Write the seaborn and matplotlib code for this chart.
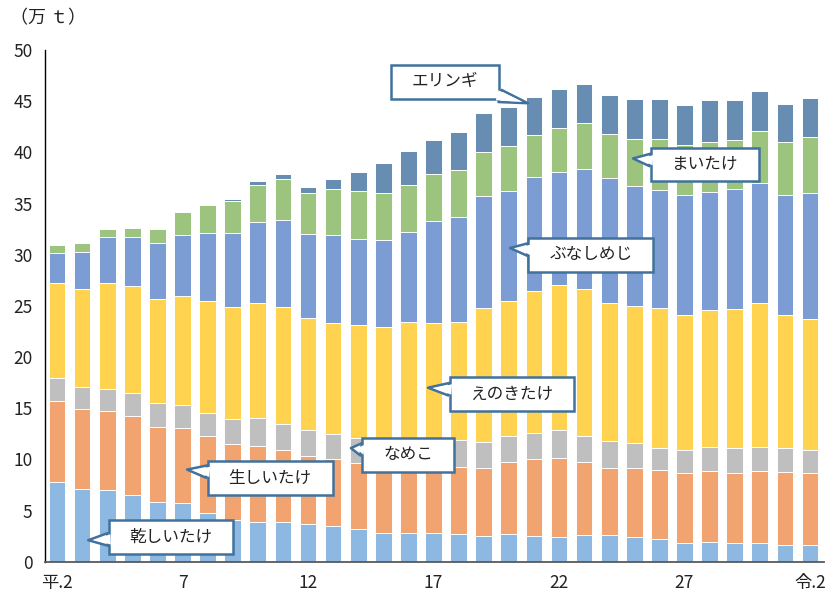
import numpy as np
import pandas as pd
import matplotlib
matplotlib.use("Agg")
import matplotlib.pyplot as plt
import seaborn as sns
from matplotlib.path import Path

# ---------------- data (万t) ----------------
years = ["平.2", "3", "4", "5", "6", "7", "8", "9", "10", "11", "12", "13", "14",
         "15", "16", "17", "18", "19", "20", "21", "22", "23", "24", "25", "26",
         "27", "28", "29", "30", "令.1", "令.2"]
tick_labels = ["平.2", "7", "12", "17", "22", "27", "令.2"]

series_names = ["乾しいたけ", "生しいたけ", "なめこ", "えのきたけ", "ぶなしめじ", "まいたけ", "エリンギ"]

dried = [7.8, 7.1, 7.0, 6.5, 5.8, 5.7, 4.8, 4.05, 3.9, 3.9, 3.65, 3.45, 3.15, 2.85, 2.85,
         2.85, 2.7, 2.5, 2.7, 2.55, 2.45, 2.6, 2.6, 2.4, 2.2, 1.8, 1.9, 1.8, 1.8, 1.65, 1.6]
fresh = [7.9, 7.8, 7.7, 7.7, 7.4, 7.4, 7.5, 7.45, 7.45, 7.05, 6.7, 6.6, 6.45, 6.6, 6.45,
         6.55, 6.6, 6.7, 7.05, 7.45, 7.7, 7.1, 6.6, 6.8, 6.75, 6.85, 6.95, 6.9, 7.05, 7.15, 7.05]
nameko = [2.25, 2.2, 2.2, 2.3, 2.3, 2.25, 2.25, 2.45, 2.7, 2.55, 2.55, 2.45, 2.5, 2.45, 2.5,
          2.5, 2.6, 2.5, 2.55, 2.6, 2.75, 2.55, 2.6, 2.4, 2.2, 2.3, 2.35, 2.4, 2.4, 2.35, 2.25]
enoki = [9.25, 9.5, 10.3, 10.4, 10.2, 10.65, 10.9, 10.95, 11.2, 11.4, 10.95, 10.8, 11.05, 11.0, 11.6,
         11.45, 11.5, 13.1, 13.15, 13.85, 14.15, 14.35, 13.5, 13.35, 13.6, 13.2, 13.35, 13.55, 14.05, 12.95, 12.8]
bunashimeji = [3.0, 3.7, 4.5, 4.8, 5.4, 5.9, 6.65, 7.25, 7.9, 8.45, 8.2, 8.65, 8.35, 8.5, 8.8,
               9.95, 10.3, 10.9, 10.8, 11.15, 11.0, 11.8, 12.15, 11.75, 11.6, 11.65, 11.6, 11.8, 11.75, 11.75, 12.3]
maitake = [0.75, 0.8, 0.85, 0.95, 1.45, 2.3, 2.75, 3.1, 3.65, 4.05, 4.0, 4.45, 4.7, 4.6, 4.6,
           4.55, 4.6, 4.35, 4.35, 4.1, 4.35, 4.45, 4.35, 4.6, 4.95, 4.9, 4.85, 4.75, 5.0, 5.15, 5.5]
eringi = [0.0, 0.0, 0.0, 0.0, 0.0, 0.0, 0.0, 0.2, 0.4, 0.5, 0.6, 1.0, 1.9, 2.95, 3.35,
          3.4, 3.7, 3.8, 3.85, 3.7, 3.75, 3.8, 3.8, 3.95, 3.95, 3.9, 4.1, 3.9, 3.9, 3.75, 3.85]

colors = ["#8DB8E1", "#F1A46F", "#BFBFBF", "#FFD34F", "#7C9CD4", "#9CC47E", "#678DB3"]

df = pd.DataFrame({"year": years, "乾しいたけ": dried, "生しいたけ": fresh, "なめこ": nameko,
                   "えのきたけ": enoki, "ぶなしめじ": bunashimeji, "まいたけ": maitake,
                   "エリンギ": eringi})
cum = df[series_names].cumsum(axis=1)
cum["year"] = df["year"]

# ---------------- style ----------------
sns.set_style("white")
plt.rcParams["font.family"] = ["Noto Sans CJK JP", "DejaVu Sans"]

fig = plt.figure(figsize=(8.4, 5.92), dpi=100)
ax = fig.add_axes([45 / 840, 30.3 / 592, (824 - 45) / 840, (561.7 - 50) / 592])

for name, col in reversed(list(zip(series_names, colors))):
    sns.barplot(data=cum, x="year", y=name, color=col, saturation=1, width=0.665,
                edgecolor="white", linewidth=0.7, errorbar=None, ax=ax, zorder=2)

ax.set_xlim(-0.48, 30.56)
ax.set_ylim(0, 50)
ax.set_yticks(np.arange(0, 51, 5))
ax.set_xticks([years.index(t) for t in tick_labels])
ax.set_xticklabels(tick_labels)
ax.set_xlabel("")
ax.set_ylabel("")
ax.tick_params(axis="y", direction="out", length=4, width=1, color="black",
               labelsize=12.5, pad=5, labelcolor="#222222")
ax.tick_params(axis="x", length=0, labelsize=12.5, pad=9, labelcolor="#222222")
for s in ["top", "right"]:
    ax.spines[s].set_visible(False)
ax.spines["left"].set_color("black")
ax.spines["left"].set_linewidth(1.0)
ax.spines["bottom"].set_color("#595959")
ax.spines["bottom"].set_linewidth(1.3)
ax.spines["left"].set_zorder(5)
ax.spines["bottom"].set_zorder(5)

fig.text(10 / 840, 1 - 18 / 592, "（万 ｔ）", fontsize=13, va="center", ha="left",
         color="#222222")


# ---------------- callouts ----------------
def make_box(shrink):
    def callout_box(x0, y0, width, height, mutation_size):
        padx = (1.25 - shrink) * mutation_size
        pady = (0.5 - shrink) * mutation_size
        x0 -= padx
        y0 -= pady
        width += 2 * padx
        height += 2 * pady
        verts = [(x0, y0), (x0 + width, y0), (x0 + width, y0 + height),
                 (x0, y0 + height), (x0, y0)]
        codes = [Path.MOVETO, Path.LINETO, Path.LINETO, Path.LINETO, Path.CLOSEPOLY]
        return Path(verts, codes)
    return callout_box


edge = "#41719C"
callouts = [
    ("エリンギ", (18.76, 44.8), (15.46, 46.9)),
    ("まいたけ", (22.95, 39.4), (25.82, 38.8)),
    ("ぶなしめじ", (18.05, 30.65), (21.27, 30.0)),
    ("えのきたけ", (14.78, 17.0), (18.13, 16.4)),
    ("なめこ", (11.71, 11.1), (13.98, 10.43)),
    ("生しいたけ", (5.18, 9.0), (8.49, 8.18)),
    ("乾しいたけ", (1.24, 2.1), (4.54, 2.41)),
]
for label, pt, txt in callouts:
    ax.annotate(label, xy=pt, xytext=txt, textcoords="data", ha="center", va="center",
                fontsize=12, color="#222222", zorder=10,
                bbox=dict(boxstyle=make_box(0.0), facecolor="white", edgecolor=edge,
                          linewidth=1.8),
                arrowprops=dict(arrowstyle="wedge,tail_width=0.75,shrink_factor=0.5",
                                facecolor="white", edgecolor=edge, linewidth=1.8,
                                shrinkA=0, shrinkB=0))
    # white fill over the joint so the tail merges into the box
    ax.annotate(label, xy=pt, xytext=txt, textcoords="data", ha="center", va="center",
                fontsize=12, color="none", zorder=11,
                bbox=dict(boxstyle=make_box(0.12), facecolor="none", edgecolor="none"),
                arrowprops=dict(arrowstyle="wedge,tail_width=0.62,shrink_factor=0.5",
                                facecolor="white", edgecolor="none", linewidth=0,
                                shrinkA=0, shrinkB=4))

fig.savefig("out.png", dpi=100)
